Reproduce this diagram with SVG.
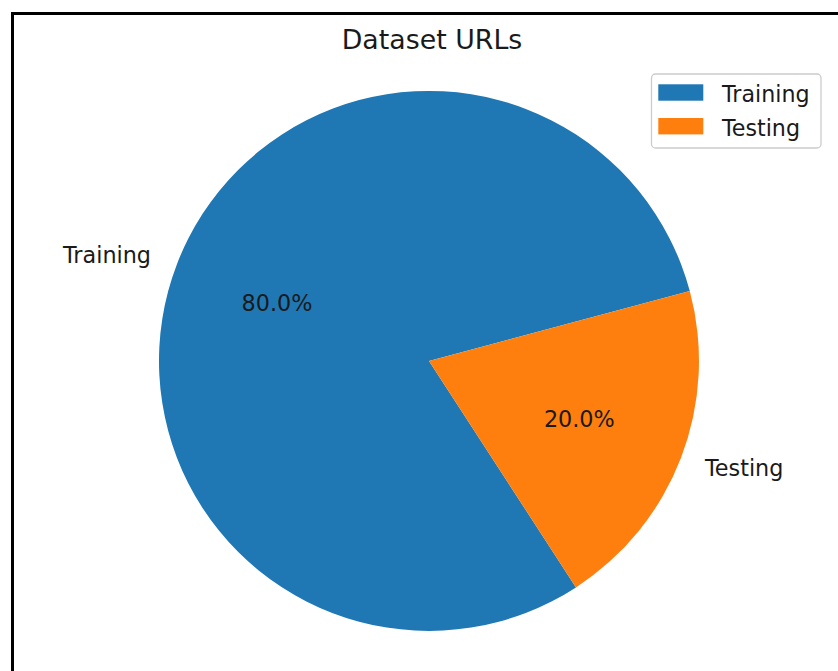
<svg xmlns="http://www.w3.org/2000/svg" width="838" height="671" viewBox="0 0 838 671">
<style>
text{font-family:"DejaVu Sans","Liberation Sans",sans-serif;fill:#1a1a1a}
.lbl{font-size:22.3px}
.title{font-size:26.8px}
.leg{font-size:22.2px}
</style>
<rect width="838" height="671" fill="#ffffff"/>
<path d="M12.5,671 V13.5 H838" fill="none" stroke="#000000" stroke-width="3"/>
<text class="title" x="432" y="48.5" text-anchor="middle">Dataset URLs</text>
<g id="training">
<path d="M429,361 L689.8,291.1 A270,270 0 1 0 576,587.4 Z" fill="#1f77b4"/>
<text class="lbl" x="151" y="262.7" text-anchor="end">Training</text>
<text class="lbl" x="277" y="311" text-anchor="middle">80.0%</text>
</g>
<g id="testing">
<path d="M429,361 L576,587.4 A270,270 0 0 0 689.8,291.1 Z" fill="#ff7f0e"/>
<text class="lbl" x="705" y="475.5">Testing</text>
<text class="lbl" x="579.3" y="427" text-anchor="middle">20.0%</text>
</g>
<g id="legend">
<rect x="651.5" y="74" width="169.5" height="74" rx="4" fill="#ffffff" fill-opacity="0.8" stroke="#cccccc" stroke-width="1.3"/>
<rect x="658.3" y="84.3" width="45" height="16.4" fill="#1f77b4"/>
<rect x="658.3" y="118" width="45" height="16.4" fill="#ff7f0e"/>
<text class="leg" x="722" y="102.3">Training</text>
<text class="leg" x="722" y="135.5">Testing</text>
</g>
</svg>
